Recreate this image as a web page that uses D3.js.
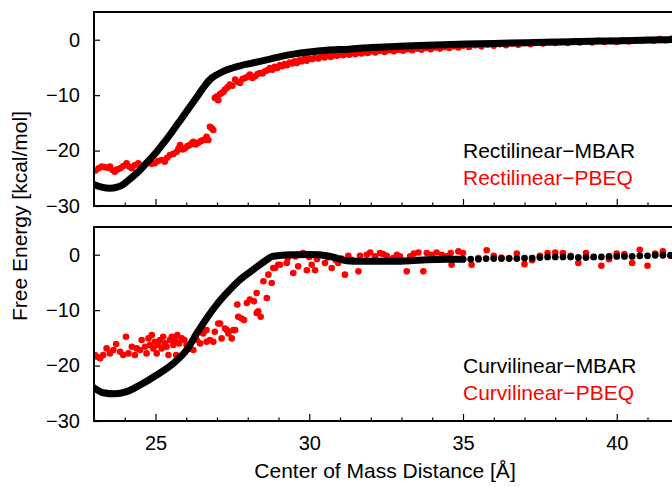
<!DOCTYPE html>
<html>
<head>
<meta charset="utf-8">
<script src="https://cdn.jsdelivr.net/npm/d3@7"></script>
<style>
  body { margin: 0; background: white; }
  svg { display: block; font-family: "Liberation Sans", Arial, sans-serif; }
</style>
</head>
<body>
<div id="viz"></div>
<script>
// Rectilinear panel (top)
const rectMbar = [
  [23.0,-26.1],[23.25,-26.6],[23.52,-26.8],[23.75,-26.6],[23.95,-26.1],[24.2,-25.0],[24.5,-23.5],
  [24.75,-22.0],[25.04,-20.2],[25.3,-18.4],[25.58,-16.3],[25.85,-14.2],[26.12,-12.1],[26.35,-10.3],
  [26.55,-8.7],[26.77,-7.2],[27.0,-6.3],[27.2,-5.7],[27.5,-5.1],[27.75,-4.7],[28.07,-4.3],[28.4,-3.9],
  [28.72,-3.5],[29.1,-3.0],[29.48,-2.6],[30.0,-2.2],[30.57,-1.9],[31.3,-1.7],[32.0,-1.4],[32.95,-1.2],
  [33.82,-1.0],[34.6,-0.85],[35.5,-0.75],[36.5,-0.6],[37.3,-0.5],[38.5,-0.35],[39.5,-0.25],[40.5,-0.15],
  [41.6,0.0],[42.0,0.05]
];
const rectPbeq = [
  [23.05,-23.6],[23.15,-23.2],[23.25,-22.9],[23.35,-23.0],[23.45,-23.1],[23.52,-22.9],[23.6,-23.5],
  [23.68,-23.8],[23.76,-23.4],[23.85,-23.2],[23.95,-22.8],[24.06,-22.3],[24.15,-22.9],[24.23,-23.2],
  [24.33,-22.6],[24.44,-22.3],[24.52,-22.7],[24.6,-22.9],[24.68,-22.4],[24.77,-22.0],[24.87,-22.4],
  [24.98,-22.3],[25.08,-21.9],[25.2,-21.7],[25.3,-22.0],[25.38,-21.3],[25.47,-20.8],[25.58,-20.6],
  [25.69,-20.2],[25.75,-19.6],[25.8,-19.0],[25.88,-19.8],[25.96,-19.6],[26.04,-19.2],[26.12,-19.0],
  [26.18,-18.7],[26.23,-18.4],[26.31,-18.9],[26.39,-18.6],[26.47,-18.3],[26.55,-18.1],[26.61,-18.1],
  [26.66,-17.5],[26.72,-18.1],[26.77,-15.7],[26.83,-16.0],[26.88,-16.3],
  [26.93,-10.5],[27.0,-10.2],[27.04,-10.9],[27.1,-9.8],[27.15,-9.6],[27.21,-9.4],[27.26,-9.0],
  [27.34,-8.6],[27.42,-8.1],[27.5,-8.3],[27.59,-7.2],[27.67,-7.6],[27.75,-7.8],[27.83,-7.1],
  [27.91,-6.9],[27.99,-6.7],[28.07,-6.3],[28.15,-6.9],[28.24,-6.6],[28.32,-6.2],[28.4,-6.0],
  [28.48,-6.1],[28.56,-5.7],[28.64,-5.5],[28.72,-5.1],
  [28.8,-5.4],[28.88,-4.9],[28.96,-5.1],[29.04,-4.6],[29.12,-4.8],[29.2,-4.4],[29.28,-4.6],
  [29.36,-4.1],[29.44,-4.3],[29.52,-3.9],[29.6,-4.2],[29.68,-3.7],[29.76,-3.9],[29.84,-3.5],
  [29.92,-3.8],[30.0,-3.4],[30.1,-3.5],[30.2,-3.2],[30.3,-3.4],[30.4,-3.0],[30.5,-3.2],[30.6,-2.9],
  [30.7,-3.1],[30.8,-2.8],[30.9,-2.9],[31.0,-2.6],[31.1,-2.8],[31.2,-2.5],[31.3,-2.7],[31.4,-2.4],
  [31.5,-2.6],[31.6,-2.3],[31.7,-2.5],[31.8,-2.2],[31.9,-2.4],[32.0,-2.1],[32.15,-2.3],[32.3,-2.0],
  [32.45,-2.2],[32.6,-1.9],[32.75,-2.1],[32.9,-1.8],[33.05,-2.0],[33.2,-1.7],[33.35,-1.9],[33.5,-1.6],
  [33.65,-1.8],[33.8,-1.5],[33.95,-1.7],[34.1,-1.4],[34.25,-1.6],[34.4,-1.3],[34.55,-1.5],[34.7,-1.2],
  [34.85,-1.4],[35.0,-1.1],[35.2,-1.3],[35.4,-1.0],[35.6,-1.2],[35.8,-0.9],[36.0,-1.1],[36.2,-0.8],
  [36.4,-1.0],[36.6,-0.7],[36.8,-0.9],[37.0,-0.6],[37.2,-0.8],[37.4,-0.5],[37.6,-0.7],[37.8,-0.4],
  [38.0,-0.6],[38.2,-0.4],[38.4,-0.6],[38.6,-0.3],[38.8,-0.5],[39.0,-0.3],[39.2,-0.5],[39.4,-0.2],
  [39.6,-0.4],[39.8,-0.2],[40.0,-0.4],[40.2,-0.1],[40.4,-0.3],[40.6,-0.1],[40.8,-0.2],[41.0,0.0],
  [41.2,-0.2],[41.4,0.1],[41.6,-0.1],[41.8,0.2]
];

// Curvilinear panel (bottom)
const curvMbarLine = [
  [23.0,-24.0],[23.3,-24.9],[23.68,-25.1],[24.06,-24.7],[24.5,-23.5],[25.04,-21.7],[25.58,-19.6],
  [26.01,-17.2],[26.34,-14.2],[26.66,-11.5],[26.99,-9.0],[27.32,-6.9],[27.75,-4.5],[28.18,-2.7],
  [28.62,-0.9],[28.8,-0.3],[29.1,-0.1],[29.48,0.0],[30.02,0.05],[30.57,-0.2],[30.89,-0.6],
  [31.22,-1.1],[31.65,-1.2],[32.73,-1.2],[33.28,-1.1],[33.82,-0.9],[34.47,-0.8],[35.0,-0.8]
];
const curvMbarDots = [
  [35.0,-0.8],[35.25,-0.8],[35.5,-0.8],[35.75,-0.7],[36.0,-0.7],[36.25,-0.7],[36.5,-0.7],
  [36.75,-0.7],[37.0,-0.6],[37.25,-0.6],[37.5,-0.5],[37.75,-0.4],[38.0,-0.4],[38.25,-0.4],
  [38.5,-0.4],[38.75,-0.5],[39.0,-0.5],[39.25,-0.4],[39.5,-0.4],[39.75,-0.3],[40.0,-0.3],
  [40.25,-0.3],[40.5,-0.3],[40.75,-0.2],[41.0,-0.2],[41.25,-0.1],[41.5,-0.1],[41.75,-0.1]
];
const curvPbeq = [
  [23.03,-18.1],[23.1,-18.4],[23.2,-18.7],[23.3,-18.1],[23.41,-16.9],[23.52,-17.8],[23.63,-17.2],
  [23.72,-16.1],[23.85,-17.5],[23.95,-18.1],[24.04,-14.8],[24.12,-17.8],[24.23,-16.6],[24.33,-18.1],
  [24.39,-16.9],[24.5,-17.2],[24.55,-15.4],[24.66,-16.6],[24.71,-17.8],[24.77,-15.1],[24.82,-16.3],
  [24.88,-14.5],[24.93,-16.9],[24.98,-15.7],[25.04,-17.8],[25.09,-16.3],[25.15,-15.4],[25.2,-16.9],
  [25.25,-14.8],[25.31,-16.0],[25.36,-16.6],[25.42,-18.1],[25.47,-15.4],[25.53,-14.8],[25.58,-16.3],
  [25.63,-15.4],[25.67,-18.1],[25.71,-14.5],[25.77,-16.0],[25.85,-15.1],[25.94,-15.4],[26.01,-16.3],
  [26.12,-16.9],[26.23,-17.2],[26.34,-15.4],[26.45,-16.0],[26.45,-13.6],[26.55,-14.2],[26.66,-13.6],
  [26.66,-15.7],[26.77,-15.4],[26.88,-15.7],[26.93,-13.9],[27.04,-12.4],[27.1,-12.4],[27.15,-15.1],
  [27.26,-13.3],[27.32,-13.6],[27.37,-14.2],[27.48,-15.1],[27.53,-13.6],[27.59,-13.6],[27.66,-9.0],
  [27.69,-11.2],[27.8,-11.5],[27.88,-11.8],[27.97,-8.7],[28.07,-8.1],[28.2,-8.4],[28.29,-6.9],
  [28.29,-10.5],[28.34,-10.2],[28.42,-11.2],[28.51,-4.8],[28.62,-7.8],[28.67,-3.6],[28.78,-5.1],
  [28.83,-2.4],[28.89,-2.4],[28.99,-1.8],[29.05,-1.8],[29.27,-1.5],[29.3,-0.6],[29.48,-3.3],
  [29.55,-0.3],[29.64,-2.1],[29.75,0.0],[29.8,0.3],[29.92,-2.8],[30.0,-0.4],[30.08,-1.8],
  [30.19,-2.8],[30.25,-0.8],[30.35,0.0],[30.51,-1.5],[30.6,-0.5],[30.73,-2.4],[30.85,-0.9],
  [30.94,-1.5],[31.05,-0.7],[31.16,-3.6],[31.27,-0.2],[31.38,-0.9],[31.6,-3.0],[31.65,-0.2],
  [31.87,0.0],[31.98,0.4],[32.14,-0.3],[32.3,0.3],[32.4,0.1],[32.52,-0.2],[32.73,-0.6],[32.85,0.0],
  [32.95,-0.3],[33.17,-3.0],[33.28,-0.3],[33.4,0.2],[33.55,0.4],[33.71,-3.0],[33.82,0.3],[33.98,0.0],
  [34.0,-0.5],[34.14,0.4],[34.31,0.0],[34.47,-0.3],[34.6,0.3],[34.63,-1.8],[34.85,0.6],[35.0,0.3],
  [35.28,-1.8],[35.5,-0.6],[35.77,0.8],[36.0,-0.2],[36.25,-0.5],[36.5,-0.6],[36.75,0.2],[37.0,-1.7],
  [37.25,-1.0],[37.5,-0.2],[37.75,0.3],[38.0,0.4],[38.25,0.3],[38.5,-0.2],[38.75,-1.5],[39.0,0.3],
  [39.25,-0.4],[39.5,-2.0],[39.75,-0.8],[40.0,0.2],[40.25,0.1],[40.5,-1.5],[40.75,0.9],[41.0,-2.0],
  [41.25,0.2],[41.5,0.6],[41.75,-0.2]
];

const xMajor = [25, 30, 35, 40];
const xMinor = [23, 24, 26, 27, 28, 29, 31, 32, 33, 34, 36, 37, 38, 39, 41, 42];
const yTicks = [0, -10, -20, -30];
const legends = [
  ["Rectilinear\u2212MBAR", "Rectilinear\u2212PBEQ"],
  ["Curvilinear\u2212MBAR", "Curvilinear\u2212PBEQ"]
];

const width = 672, height = 487;
const left = 94, plotRight = 94 + 22 * 30.75;
const panels = [
  { top: 12, bottom: 206, mbarLine: rectMbar, mbarDots: [], pbeq: rectPbeq, legend: legends[0], legendY: 158, showX: false },
  { top: 227, bottom: 421, mbarLine: curvMbarLine, mbarDots: curvMbarDots, pbeq: curvPbeq, legend: legends[1], legendY: 373, showX: true }
];

const svg = d3.select("#viz").append("svg")
    .attr("width", width)
    .attr("height", height);

const x = d3.scaleLinear().domain([23, 45]).range([left, plotRight]);

panels.forEach((p, i) => {
    const y = d3.scaleLinear().domain([-30, 5]).range([p.bottom, p.top]);

    svg.append("clipPath").attr("id", "clip" + i)
      .append("rect")
        .attr("x", left).attr("y", p.top)
        .attr("width", plotRight - left).attr("height", p.bottom - p.top);

    const g = svg.append("g").attr("clip-path", `url(#clip${i})`);

    // red PBEQ points
    g.selectAll(".pbeq")
      .data(p.pbeq)
      .enter().append("circle")
        .attr("cx", d => x(d[0]))
        .attr("cy", d => y(d[1]))
        .attr("r", 3.3)
        .attr("fill", "#ff0000");

    // black MBAR dense curve
    const line = d3.line()
        .x(d => x(d[0]))
        .y(d => y(d[1]))
        .curve(d3.curveMonotoneX);
    g.append("path")
        .attr("d", line(p.mbarLine))
        .attr("fill", "none")
        .attr("stroke", "black")
        .attr("stroke-width", 7)
        .attr("stroke-linecap", "round")
        .attr("stroke-linejoin", "round");

    g.selectAll(".mbar")
      .data(p.mbarDots)
      .enter().append("circle")
        .attr("cx", d => x(d[0]))
        .attr("cy", d => y(d[1]))
        .attr("r", 3.4)
        .attr("fill", "black");

    // y axis
    const yAxis = svg.append("g")
        .attr("transform", `translate(${left},0)`)
        .call(d3.axisLeft(y).tickValues(yTicks).tickSizeInner(-6).tickSizeOuter(0).tickPadding(14)
              .tickFormat(d => d < 0 ? "\u2212" + Math.abs(d) : d));
    yAxis.select(".domain").remove();
    yAxis.selectAll("line").attr("stroke-width", 1.2);
    yAxis.selectAll("text").attr("font-size", 20).attr("fill", "black")
        .attr("font-family", "Liberation Sans, Arial, sans-serif");

    // x axis, minor and major ticks
    const minor = svg.append("g")
        .attr("transform", `translate(0,${p.bottom})`)
        .call(d3.axisBottom(x).tickValues(xMinor).tickSizeInner(-3.5).tickSizeOuter(0).tickFormat(""));
    minor.select(".domain").remove();
    minor.selectAll("line").attr("stroke-width", 1.2);

    const major = svg.append("g")
        .attr("transform", `translate(0,${p.bottom})`)
        .call(d3.axisBottom(x).tickValues(xMajor).tickSizeInner(-7).tickSizeOuter(0).tickPadding(15)
              .tickFormat(p.showX ? d3.format("d") : ""));
    major.select(".domain").remove();
    major.selectAll("line").attr("stroke-width", 1.2);
    major.selectAll("text").attr("font-size", 20).attr("fill", "black")
        .attr("font-family", "Liberation Sans, Arial, sans-serif");

    // frame (left, top, bottom)
    svg.append("path")
        .attr("d", `M${plotRight},${p.top}H${left}V${p.bottom}H${plotRight}`)
        .attr("fill", "none")
        .attr("stroke", "black")
        .attr("stroke-width", 2);

    // legend
    svg.append("text")
        .attr("x", 463).attr("y", p.legendY)
        .attr("font-size", 21).attr("fill", "black")
        .text(p.legend[0]);
    svg.append("text")
        .attr("x", 463).attr("y", p.legendY + 27)
        .attr("font-size", 21).attr("fill", "#ff0000")
        .text(p.legend[1]);
});

// axis titles
svg.append("text")
    .attr("transform", "translate(27,216) rotate(-90)")
    .attr("text-anchor", "middle")
    .attr("font-size", 21)
    .text("Free Energy [kcal/mol]");

svg.append("text")
    .attr("x", 385).attr("y", 478)
    .attr("text-anchor", "middle")
    .attr("font-size", 21)
    .text("Center of Mass Distance [\u00c5]");
</script>
</body>
</html>
